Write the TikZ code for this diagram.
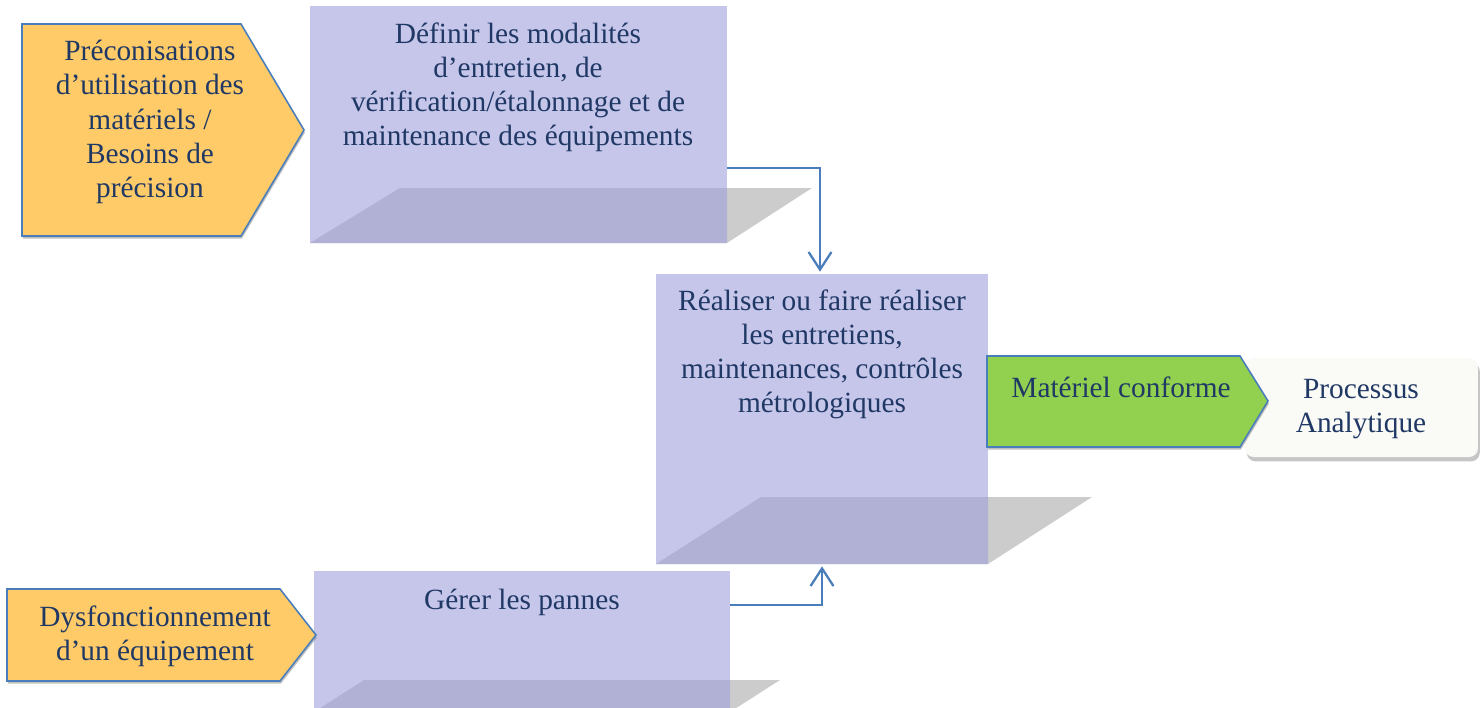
\documentclass[tikz,border=0pt]{standalone}
\usepackage{fontspec}
\setmainfont{Liberation Serif}
\usetikzlibrary{arrows.meta,shadows}

\definecolor{boxfill}{RGB}{198,198,235}
\definecolor{boxdark}{RGB}{177,177,214}
\definecolor{shadegray}{RGB}{204,204,204}
\definecolor{tagorange}{RGB}{255,203,105}
\definecolor{taggreen}{RGB}{146,208,80}
\definecolor{edgeblue}{RGB}{74,126,187}
\definecolor{textblue}{RGB}{31,56,100}
\definecolor{endfill}{RGB}{250,250,246}

\begin{document}
\begin{tikzpicture}[x=0.02cm,y=-0.02cm,
>={Straight Barb[length=10pt,width=13pt]},
box/.style={rectangle, fill=boxfill, inner sep=0},
txt/.style={font=\fontsize{16.7}{19.4}\selectfont, text=textblue, align=center, inner sep=0},
tag/.style={draw=edgeblue, line width=0.9pt, drop shadow={shadow xshift=0.5pt, shadow yshift=-1.5pt, opacity=0.5, fill=gray}},
link/.style={draw=edgeblue, line width=1.3pt}]

\useasboundingbox (0,0) rectangle (1480,707);
\clip (0,0) rectangle (1480,707);

% perspective shadows
\fill[shadegray] (310,243) -- (400,188) -- (812,188) -- (727,243) -- cycle;
\fill[shadegray] (656,564) -- (761,497) -- (1092,497) -- (988,564) -- cycle;
\fill[shadegray] (314,712) -- (364,680) -- (780,680) -- (730,712) -- cycle;

% process boxes
\draw (518.5,124.5) node[box, minimum width=8.34cm, minimum height=4.74cm] (D1) {};
\draw (822,419) node[box, minimum width=6.64cm, minimum height=5.8cm] (R) {};
\draw (522,641.5) node[box, minimum width=8.32cm, minimum height=2.83cm] (G) {};

\fill[boxdark] (310,243) -- (400,188) -- (727,188) -- (727,243) -- cycle;
\fill[boxdark] (656,564) -- (761,497) -- (988,497) -- (988,564) -- cycle;
\fill[boxdark] (314,712) -- (364,680) -- (730,680) -- (730,712) -- cycle;

\draw (518,87.5) node[txt] (D1t) {Définir les modalités\\d’entretien, de\\vérification/étalonnage et de\\maintenance des équipements};
\draw (822,354.5) node[txt] (Rt) {Réaliser ou faire réaliser\\les entretiens,\\maintenances, contrôles\\métrologiques};
\draw (522,602) node[txt] (Gt) {Gérer les pannes};

% inputs
\draw[tag, fill=tagorange] (22,24) -- (241,24) -- (304,130) -- (241,236) -- (22,236) -- cycle;
\draw (150,122) node[txt] (P1) {Préconisations\\d’utilisation des\\matériels /\\Besoins de\\précision};

\draw[tag, fill=tagorange] (7,589) -- (280,589) -- (316,635) -- (280,681) -- (7,681) -- cycle;
\draw (155,636.5) node[txt] (P2) {Dysfonctionnement\\d’un équipement};

% output
\draw (1361.5,407.5) node[rectangle, rounded corners=5pt, fill=endfill, minimum width=4.66cm, minimum height=1.98cm,
  drop shadow={shadow xshift=1pt, shadow yshift=-2.5pt, opacity=0.45, fill=gray}] (PA) {};
\draw (1361,409.5) node[txt] (PAt) {Processus\\Analytique};

\draw[tag, fill=taggreen] (987,356) -- (1240,356) -- (1268,401) -- (1240,447) -- (987,447) -- cycle;
\draw (1121,387) node[txt] (MC) {Matériel conforme};

% connectors
\draw[link,->] ([yshift=-0.87cm]D1.east) -| ([xshift=-0.04cm,yshift=0.04cm]R.north);
\draw[link,->] ([yshift=0.73cm]G.east) -| ([yshift=-0.04cm]R.south);
\end{tikzpicture}
\end{document}
